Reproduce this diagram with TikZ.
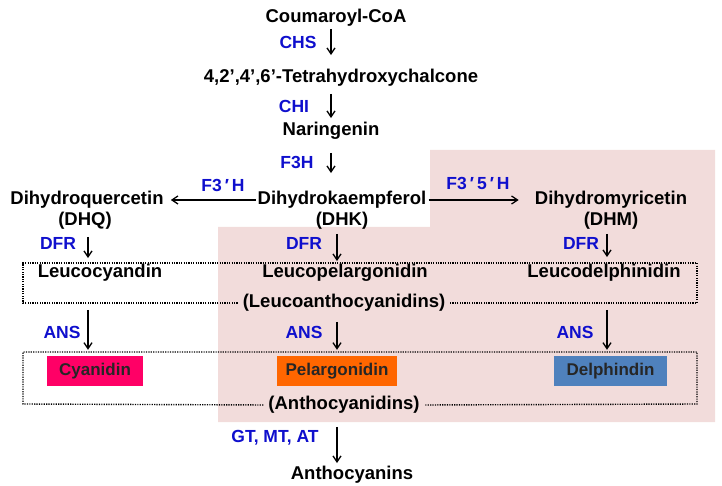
\documentclass[tikz,border=0pt]{standalone}
\usepackage{fontspec}
\setmainfont{Liberation Sans}
\usetikzlibrary{arrows.meta}
\definecolor{enzblue}{RGB}{15,15,205}
\definecolor{pinkbg}{RGB}{242,220,219}
\definecolor{cyanc}{RGB}{255,0,102}
\definecolor{pelc}{RGB}{255,102,0}
\definecolor{delc}{RGB}{79,129,189}
\begin{document}
\begin{tikzpicture}[x=1pt,y=-1pt,
  cmp/.style={font=\fontsize{18.5}{20}\selectfont\bfseries, inner sep=2pt, text height=13.5pt, text depth=4pt},
  enz/.style={font=\fontsize{17.5}{19}\selectfont\bfseries, text=enzblue, inner sep=1pt},
  pig/.style={font=\fontsize{17}{19}\selectfont\bfseries, text=black!85, minimum height=30pt, inner sep=0pt},
  arr/.style={-{Straight Barb[length=6pt,width=8pt]}, line width=1.3pt, black},
  dots/.style={line width=1.4pt, dash pattern=on 1.2pt off 1.2pt}]
\useasboundingbox (0,0) rectangle (722,486);
% background region
\fill[pinkbg] (218,227) -- (430,227) -- (430,150) -- (715,150) -- (715,422) -- (218,422) -- cycle;
% compounds
\node[cmp] (coum) at (336,18) {Coumaroyl-CoA};
\node[cmp] (chal) at (341,78) {4,2’,4’,6’-Tetrahydroxychalcone};
\node[cmp] (nar) at (331,131) {Naringenin};
\node[cmp] (dhk) at (342,200) {Dihydrokaempferol};
\node[cmp] (dhkab) at (342,221) {(DHK)};
\node[cmp] (dhq) at (87,200) {Dihydroquercetin};
\node[cmp] (dhqab) at (85,221) {(DHQ)};
\node[cmp] (dhm) at (611,200) {Dihydromyricetin};
\node[cmp] (dhmab) at (611,221) {(DHM)};
\node[cmp] (lcy) at (100,273) {Leucocyandin};
\node[cmp] (lpel) at (345,273) {Leucopelargonidin};
\node[cmp] (ldel) at (604,273) {Leucodelphinidin};
\node[cmp] (leuco) at (344,303) {(Leucoanthocyanidins)};
\node[pig, fill=cyanc, minimum width=96pt] (cya) at (95,371) {Cyanidin};
\node[pig, fill=pelc, minimum width=120pt] (pel) at (337,371) {Pelargonidin};
\node[pig, fill=delc, minimum width=113pt] (del) at (610.5,371) {Delphindin};
\node[cmp] (antho) at (344,405) {(Anthocyanidins)};
\node[cmp] (anthos) at (352,475) {Anthocyanins};
% enzymes
\node[enz] (chs) at (298,42) {CHS};
\node[enz] (chi) at (294,106) {CHI};
\node[enz] (f3h) at (297,162) {F3H};
\node[enz] (f3p) at (223,185) {F3\hspace{3pt}′\hspace{3pt}H};
\node[enz] (f35) at (478,183) {F3\hspace{3pt}′\hspace{3pt}5\hspace{3pt}′\hspace{3pt}H};
\node[enz] (dfr1) at (58,243) {DFR};
\node[enz] (dfr2) at (304,243) {DFR};
\node[enz] (dfr3) at (581,243) {DFR};
\node[enz] (ans1) at (62,332) {ANS};
\node[enz] (ans2) at (304,332) {ANS};
\node[enz] (ans3) at (575,332) {ANS};
\node[enz] (gt) at (275,438) {GT, MT, AT};
% dotted groups
\draw[dots, shorten <=3pt, shorten >=3pt] (leuco.west) -- (23,303) -- (23,263) -- (697,263) -- (697,303) -- (leuco.east);
\draw[dots, shorten <=3pt, shorten >=3pt] (antho.west) -- (23,404) -- (23,352) -- (697,352) -- (697,404) -- (antho.east);
% arrows
\draw[arr, shorten >=12pt] (coum.south -| nar) -- (chal.north -| nar);
\draw[arr, shorten <=5pt, shorten >=2pt] (chal.south -| nar) -- (nar.north);
\draw[arr, shorten <=11pt, shorten >=16pt] (nar.south) -- (dhk.north -| nar);
\draw[arr, shorten >=5pt] (dhk.west) -- (dhq.east);
\draw[arr, shorten >=14pt] (dhk.east) -- (dhm.west);
\draw[arr, shorten <=5pt, shorten >=4pt] ([xshift=3pt]dhqab.south) -- ([xshift=-12pt]lcy.north);
\draw[arr, shorten <=2pt, shorten >=1pt] ([xshift=-5pt]dhkab.south) -- ([xshift=-8pt]lpel.north);
\draw[arr, shorten <=2pt, shorten >=5pt] ([xshift=-4pt]dhmab.south) -- ([xshift=3pt]ldel.north);
\draw[arr, shorten <=26pt, shorten >=6pt] ([xshift=-12pt]lcy.south) -- ([xshift=-7pt]cya.north);
\draw[arr, shorten <=8pt, shorten >=6pt] ([xshift=-7pt]leuco.south) -- (pel.north);
\draw[arr, shorten <=26pt, shorten >=6pt] ([xshift=3pt]ldel.south) -- ([xshift=-3.5pt]del.north);
\draw[arr, shorten <=11pt, shorten >=1pt] ([xshift=-7pt]antho.south) -- ([xshift=-15pt]anthos.north);
\end{tikzpicture}
\end{document}
